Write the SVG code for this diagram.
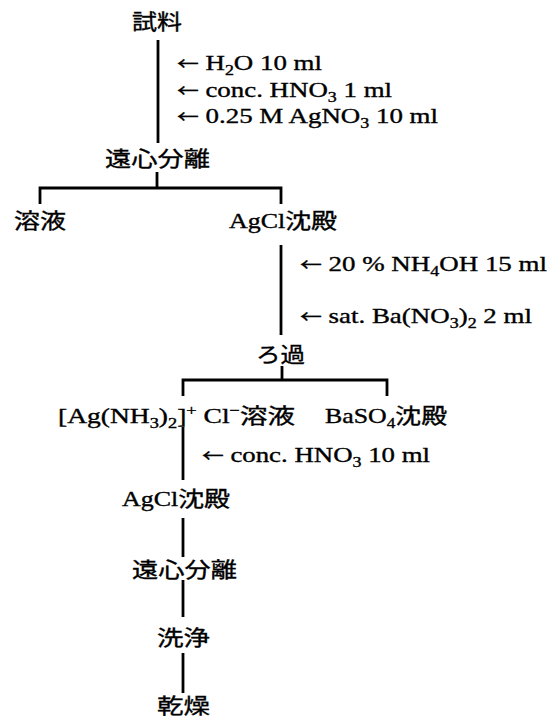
<svg xmlns="http://www.w3.org/2000/svg" width="560" height="717" viewBox="0 0 560 717">
<style>
.t{font-family:"Liberation Serif","Noto Sans CJK JP",serif;font-size:21px;fill:#000;stroke:#000;stroke-width:0.35}
.s{font-size:14px}
.a{font-family:"Noto Sans CJK JP",sans-serif;font-size:17px}
.c{stroke:#000;stroke-width:2.8;fill:none}
</style>
<rect width="560" height="717" fill="#fff"/>
<g id="connectors" class="c">
<path d="M158,40V143"/>
<path d="M157,172V188M40,204V188H281V204"/>
<path d="M281,245V335"/>
<path d="M282,366V380M183,396V380H387V396"/>
<path d="M183,427V480"/>
<path d="M183,518V557"/>
<path d="M183,580V617"/>
<path d="M183,653V693"/>
</g>
<g id="n-sample"><text class="t" x="132" y="29" textLength="50" lengthAdjust="spacingAndGlyphs">試料</text></g>
<g id="reagents1">
<text class="t" x="177" y="70" textLength="145" lengthAdjust="spacingAndGlyphs"><tspan class="a">←</tspan> H<tspan class="s" dy="5">2</tspan><tspan dy="-5">O 10 ml</tspan></text>
<text class="t" x="177" y="97" textLength="215" lengthAdjust="spacingAndGlyphs"><tspan class="a">←</tspan> conc. HNO<tspan class="s" dy="5">3</tspan><tspan dy="-5"> 1 ml</tspan></text>
<text class="t" x="177" y="123" textLength="261" lengthAdjust="spacingAndGlyphs"><tspan class="a">←</tspan> 0.25 M AgNO<tspan class="s" dy="5">3</tspan><tspan dy="-5"> 10 ml</tspan></text>
</g>
<g id="n-centrifuge1"><text class="t" x="105" y="166" textLength="105" lengthAdjust="spacingAndGlyphs">遠心分離</text></g>
<g id="n-solution"><text class="t" x="14" y="228" textLength="52" lengthAdjust="spacingAndGlyphs">溶液</text></g>
<g id="n-agcl1"><text class="t" x="229" y="228" textLength="108" lengthAdjust="spacingAndGlyphs">AgCl沈殿</text></g>
<g id="reagents2">
<text class="t" x="300" y="271" textLength="247" lengthAdjust="spacingAndGlyphs"><tspan class="a">←</tspan> 20 % NH<tspan class="s" dy="5">4</tspan><tspan dy="-5">OH 15 ml</tspan></text>
<text class="t" x="300" y="323" textLength="232" lengthAdjust="spacingAndGlyphs"><tspan class="a">←</tspan> sat. Ba(NO<tspan class="s" dy="5">3</tspan><tspan dy="-5">)</tspan><tspan class="s" dy="5">2</tspan><tspan dy="-5"> 2 ml</tspan></text>
</g>
<g id="n-filter"><text class="t" x="256" y="362" textLength="49" lengthAdjust="spacingAndGlyphs">ろ過</text></g>
<g id="n-complex"><text class="t" x="58" y="423" textLength="237" lengthAdjust="spacingAndGlyphs">[Ag(NH<tspan class="s" dy="5">3</tspan><tspan dy="-5">)</tspan><tspan class="s" dy="5">2</tspan><tspan dy="-5">]</tspan><tspan class="s" dy="-8">+</tspan><tspan dy="8"> Cl</tspan><tspan class="s" dy="-8">−</tspan><tspan dy="8">溶液</tspan></text></g>
<g id="n-baso4"><text class="t" x="325" y="423" textLength="122" lengthAdjust="spacingAndGlyphs">BaSO<tspan class="s" dy="5">4</tspan><tspan dy="-5">沈殿</tspan></text></g>
<g id="reagents3"><text class="t" x="202" y="462" textLength="228" lengthAdjust="spacingAndGlyphs"><tspan class="a">←</tspan> conc. HNO<tspan class="s" dy="5">3</tspan><tspan dy="-5"> 10 ml</tspan></text></g>
<g id="n-agcl2"><text class="t" x="122" y="506" textLength="108" lengthAdjust="spacingAndGlyphs">AgCl沈殿</text></g>
<g id="n-centrifuge2"><text class="t" x="132" y="577" textLength="105" lengthAdjust="spacingAndGlyphs">遠心分離</text></g>
<g id="n-wash"><text class="t" x="157" y="645" textLength="53" lengthAdjust="spacingAndGlyphs">洗浄</text></g>
<g id="n-dry"><text class="t" x="157" y="713" textLength="53" lengthAdjust="spacingAndGlyphs">乾燥</text></g>
</svg>
